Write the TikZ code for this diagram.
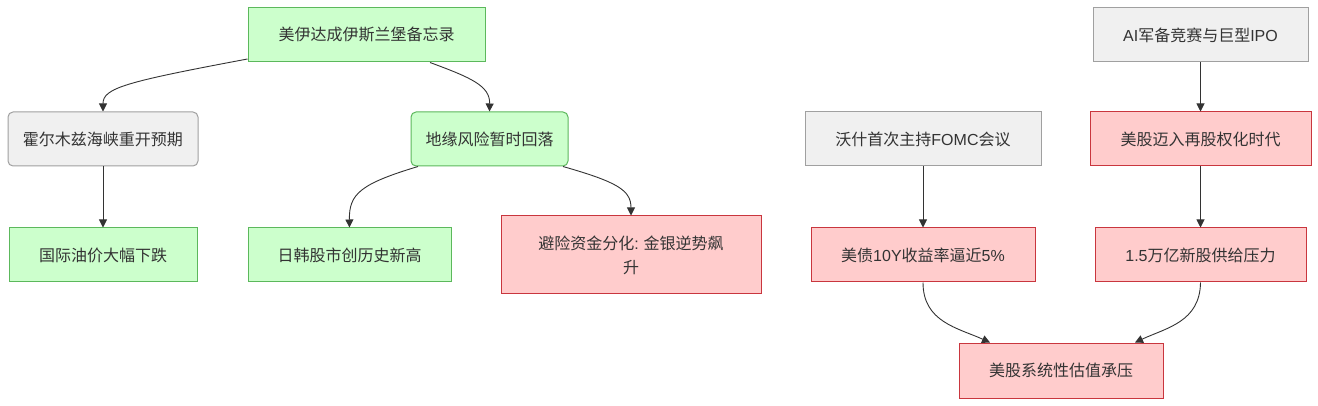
\documentclass[tikz,border=0pt]{standalone}
\usepackage{fontspec}
\setmainfont{Noto Sans CJK SC}
\newfontfamily\lat{Liberation Sans}
\usetikzlibrary{arrows.meta}
\definecolor{txt}{HTML}{333333}
\definecolor{gfill}{HTML}{CCFFCC}
\definecolor{gline}{HTML}{5CB85C}
\definecolor{rfill}{HTML}{FFCCCC}
\definecolor{rline}{HTML}{C9363E}
\definecolor{nfill}{HTML}{F0F0F0}
\definecolor{nline}{HTML}{A0A0A0}
\begin{document}
\begin{tikzpicture}[x=1pt,y=-1pt,
  box/.style={draw,line width=1pt,minimum height=54pt,inner sep=0pt,align=center,text=txt,font=\fontsize{16}{24}\selectfont},
  gbox/.style={box,fill=gfill,draw=gline},
  rbox/.style={box,fill=rfill,draw=rline},
  nbox/.style={box,fill=nfill,draw=nline},
  edge/.style={draw=txt,line width=0.9pt,-{Triangle[length=8pt,width=8pt]}}]
\useasboundingbox (0,0) rectangle (1318,406);
\node[gbox,minimum width=237pt] (n1) at (366.5,35) {美伊达成伊斯兰堡备忘录};
\node[nbox,rounded corners=5pt,minimum width=190pt] (n2) at (103,139) {霍尔木兹海峡重开预期};
\node[gbox,rounded corners=5pt,minimum width=157pt] (n3) at (489.5,139) {地缘风险暂时回落};
\node[gbox,minimum width=188pt] (n4) at (103,255) {国际油价大幅下跌};
\node[gbox,minimum width=203pt] (n5) at (349.5,255) {日韩股市创历史新高};
\node[rbox,minimum width=260pt,minimum height=78pt] (n6) at (631,255) {避险资金分化{\lat:} 金银逆势飙\\升};
\node[nbox,minimum width=215pt] (n7) at (1200.5,35) {{\lat AI}军备竞赛与巨型{\lat IPO}};
\node[nbox,minimum width=236pt] (n8) at (923,139) {沃什首次主持{\lat FOMC}会议};
\node[rbox,minimum width=221pt] (n9) at (1200.5,139) {美股迈入再股权化时代};
\node[rbox,minimum width=224pt] (n10) at (923,255) {美债{\lat 10Y}收益率逼近{\lat 5\%}};
\node[rbox,minimum width=211pt] (n11) at (1200.5,255) {{\lat 1.5}万亿新股供给压力};
\node[rbox,minimum width=204pt,minimum height=55pt] (n12) at (1061,370.5) {美股系统性估值承压};

\path[edge] (n1.south west |- 0,59) .. controls (125,82) and (103,88) .. (n2.north);
\path[edge] (n1.south -| 430,0) .. controls (472,78) and (490,86) .. (n3.north);
\path[edge] (n2) -- (n4);
\path[edge] (n3.south -| 418,0) .. controls (360,184) and (349,194) .. (n5.north);
\path[edge] (n3.south -| 563,0) .. controls (617,182) and (631,190) .. (n6.north);
\path[edge] (n7) -- (n9);
\path[edge] (n8) -- (n10);
\path[edge] (n9) -- (n11);
\path[edge] (n10.south) .. controls (923,322) and (958,328) .. (n12.north -| 990,0);
\path[edge] (n11.south) .. controls (1200,322) and (1166,328) .. (n12.north -| 1135,0);
\end{tikzpicture}
\end{document}
